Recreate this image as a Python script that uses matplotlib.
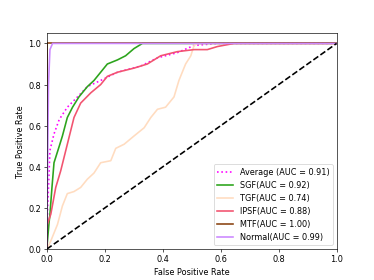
import matplotlib
matplotlib.use("Agg")
import matplotlib.pyplot as plt

# ROC curves (fpr, tpr)
avg_fpr = [0.0, 0.003, 0.006, 0.011, 0.025, 0.043, 0.071, 0.106, 0.14, 0.186, 0.244, 0.324, 0.382, 0.45, 0.508, 0.589, 1.0]
avg_tpr = [0.0, 0.2, 0.30, 0.48, 0.56, 0.63, 0.69, 0.74, 0.79, 0.82, 0.86, 0.89, 0.93, 0.955, 0.99, 1.0, 1.0]

sgf_fpr = [0.0, 0.008, 0.011, 0.018, 0.025, 0.043, 0.054, 0.071, 0.089, 0.111, 0.14, 0.163, 0.186, 0.209, 0.244, 0.272, 0.301, 0.33, 1.0]
sgf_tpr = [0.0, 0.13, 0.17, 0.30, 0.42, 0.50, 0.55, 0.64, 0.69, 0.74, 0.79, 0.82, 0.86, 0.90, 0.92, 0.94, 0.975, 1.0, 1.0]

tgf_fpr = [0.0, 0.014, 0.037, 0.054, 0.071, 0.094, 0.117, 0.14, 0.163, 0.186, 0.221, 0.238, 0.267, 0.301, 0.336, 0.359, 0.382, 0.41, 0.439, 0.456, 0.479, 0.497, 0.508, 0.52, 1.0]
tgf_tpr = [0.0, 0.04, 0.12, 0.21, 0.27, 0.28, 0.30, 0.34, 0.37, 0.42, 0.43, 0.49, 0.51, 0.55, 0.59, 0.64, 0.68, 0.69, 0.74, 0.82, 0.90, 0.94, 0.99, 1.0, 1.0]

ipsf_fpr = [0.0, 0.002, 0.014, 0.031, 0.048, 0.071, 0.094, 0.117, 0.152, 0.186, 0.209, 0.244, 0.301, 0.347, 0.393, 0.45, 0.508, 0.554, 0.589, 0.646, 1.0]
ipsf_tpr = [0.0, 0.12, 0.17, 0.30, 0.38, 0.51, 0.64, 0.71, 0.76, 0.80, 0.84, 0.86, 0.88, 0.90, 0.94, 0.96, 0.97, 0.97, 0.985, 1.0, 1.0]

mtf_fpr = [0.0, 0.0, 1.0]
mtf_tpr = [0.0, 1.0, 1.0]

normal_fpr = [0.0, 0.003, 0.006, 0.011, 0.02, 1.0]
normal_tpr = [0.0, 0.4, 0.8, 0.97, 1.0, 1.0]

labels = ["Average (AUC = 0.91)", "SGF(AUC = 0.92)", "TGF(AUC = 0.74)",
          "IPSF(AUC = 0.88)", "MTF(AUC = 1.00)", "Normal(AUC = 0.99)"]

fig, ax = plt.subplots(figsize=(6.4, 4.8), dpi=58.44)

ax.plot(avg_fpr, avg_tpr, color="magenta", linestyle=":", lw=2, label=labels[0])
ax.plot(sgf_fpr, sgf_tpr, color="#2ca41c", lw=2, label=labels[1])
ax.plot(tgf_fpr, tgf_tpr, color="#ffdcc0", lw=2, label=labels[2])
ax.plot(ipsf_fpr, ipsf_tpr, color="#f25470", lw=2, label=labels[3])
ax.plot(mtf_fpr, mtf_tpr, color="#8b4513", lw=2, label=labels[4])
ax.plot(normal_fpr, normal_tpr, color="#cc88ff", lw=2, label=labels[5])
ax.plot([0, 1], [0, 1], "k--", lw=2)

ax.set_xlim(0.0, 1.0)
ax.set_ylim(0.0, 1.05)
ax.set_xlabel("False Positive Rate")
ax.set_ylabel("True Positive Rate")
ax.legend(loc="lower right")

fig.savefig("out.png", dpi=58.44)
